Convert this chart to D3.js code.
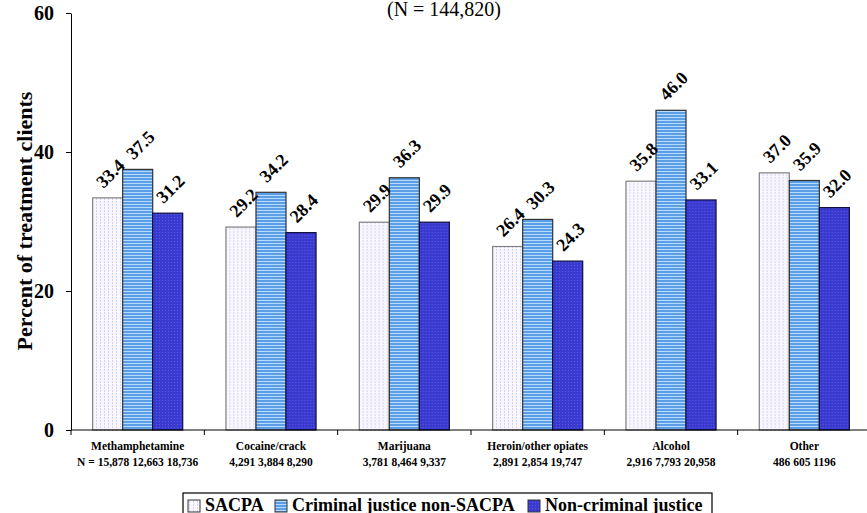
<!DOCTYPE html>
<html>
<head>
<meta charset="utf-8">
<script src="https://cdn.jsdelivr.net/npm/d3@7"></script>
<style>
  body { margin: 0; background: #fff; }
  svg text { font-family: "Liberation Serif", "Times New Roman", serif; }
</style>
</head>
<body>
<script>
// data
let categories = ["Methamphetamine", "Cocaine/crack", "Marijuana", "Heroin/other opiates", "Alcohol", "Other"];
let nLabels = ["N = 15,878 12,663 18,736", "4,291 3,884 8,290", "3,781 8,464 9,337",
  "2,891 2,854 19,747", "2,916 7,793 20,958", "486 605 1196"];
let seriesNames = ["SACPA", "Criminal justice non-SACPA", "Non-criminal justice"];
let sacpa = [33.4, 29.2, 29.9, 26.4, 35.8, 37.0];
let cjNonSacpa = [37.5, 34.2, 36.3, 30.3, 46.0, 35.9];
let nonCj = [31.2, 28.4, 29.9, 24.3, 33.1, 32.0];
let yTicks = [0, 20, 40, 60];

let seriesValues = [sacpa, cjNonSacpa, nonCj];
let fills = ["url(#patSacpa)", "url(#patCj)", "url(#patNon)"];
let strokes = ["#808080", "#333333", "#101040"];

let width = 867, height = 513;

svg = d3.select("body")
  .append("svg")
  .attr("width", width)
  .attr("height", height);

// patterns
let defs = svg.append("defs");
let p1 = defs.append("pattern").attr("id", "patSacpa")
  .attr("width", 4).attr("height", 3).attr("patternUnits", "userSpaceOnUse");
p1.append("rect").attr("width", 4).attr("height", 3).attr("fill", "#f7f7fd");
p1.append("rect").attr("x", 1).attr("y", 0).attr("width", 1).attr("height", 2).attr("fill", "#d4d4f2");

let p2 = defs.append("pattern").attr("id", "patCj")
  .attr("width", 4).attr("height", 3).attr("patternUnits", "userSpaceOnUse");
p2.append("rect").attr("width", 4).attr("height", 3).attr("fill", "#5c9ee6");
p2.append("rect").attr("y", 0).attr("width", 4).attr("height", 1).attr("fill", "#b8dcff");

let p3 = defs.append("pattern").attr("id", "patNon")
  .attr("width", 3).attr("height", 3).attr("patternUnits", "userSpaceOnUse");
p3.append("rect").attr("width", 3).attr("height", 3).attr("fill", "#3a3ad0");
p3.append("rect").attr("x", 1).attr("y", 1).attr("width", 1).attr("height", 1).attr("fill", "#5a5ae4");

// scales
let x0 = d3.scaleBand()
  .domain(categories)
  .range([71, 871])
  .padding(0);

let x1 = d3.scaleBand()
  .domain(d3.range(seriesNames.length))
  .range([0, x0.bandwidth()])
  .paddingInner(0)
  .paddingOuter(0.72);

let yScale = d3.scaleLinear()
  .domain([0, 60])
  .range([430, 13]);

// title (top is cut off in the original)
svg.append("text")
  .attr("x", 444)
  .attr("y", 16)
  .attr("text-anchor", "middle")
  .style("font-size", "20px")
  .text("(N = 144,820)");

// y axis
let yAxis = d3.axisLeft(yScale).tickValues(yTicks).tickSize(5).tickSizeOuter(0);
let yg = svg.append("g")
  .attr("transform", "translate(71,0)")
  .call(yAxis);
yg.select(".domain").attr("stroke", "#000");
yg.selectAll("text")
  .attr("x", -17)
  .attr("dy", "0.3em")
  .style("font-size", "20px")
  .style("font-weight", "bold")
  .attr("fill", "#000");

svg.append("text")
  .attr("transform", "translate(32,221) rotate(-90)")
  .attr("text-anchor", "middle")
  .style("font-size", "22px")
  .style("font-weight", "bold")
  .text("Percent of treatment clients");

// bars
let groups = svg.selectAll("g.cat")
  .data(categories)
  .enter()
  .append("g")
  .attr("class", "cat")
  .attr("transform", d => `translate(${x0(d)},0)`);

groups.selectAll("rect")
  .data((d, i) => seriesValues.map((s, j) => ({ j: j, v: s[i] })))
  .enter()
  .append("rect")
  .attr("x", d => x1(d.j))
  .attr("y", d => yScale(d.v))
  .attr("width", x1.bandwidth())
  .attr("height", d => yScale(0) - yScale(d.v))
  .attr("fill", d => fills[d.j])
  .attr("stroke", d => strokes[d.j])
  .attr("stroke-width", 1.2);

groups.selectAll("text.val")
  .data((d, i) => seriesValues.map((s, j) => ({ j: j, v: s[i] })))
  .enter()
  .append("text")
  .attr("class", "val")
  .attr("transform", d => `translate(${x1(d.j) + x1.bandwidth() / 2 + 7},${yScale(d.v) - 20}) rotate(-45)`)
  .attr("text-anchor", "middle")
  .style("font-size", "18px")
  .style("font-weight", "bold")
  .text(d => d.v.toFixed(1));

// x axis
svg.append("line")
  .attr("x1", 71).attr("x2", width)
  .attr("y1", yScale(0)).attr("y2", yScale(0))
  .attr("stroke", "#000");

svg.selectAll("line.xtick")
  .data(categories)
  .enter()
  .append("line")
  .attr("class", "xtick")
  .attr("x1", d => x0(d)).attr("x2", d => x0(d))
  .attr("y1", yScale(0)).attr("y2", yScale(0) + 5)
  .attr("stroke", "#000");

let catLabels = svg.selectAll("text.cat")
  .data(categories)
  .enter()
  .append("text")
  .attr("class", "cat")
  .attr("text-anchor", "middle")
  .style("font-size", "11.5px")
  .style("font-weight", "bold");
catLabels.append("tspan")
  .attr("x", d => x0(d) + x0.bandwidth() / 2)
  .attr("y", 450)
  .text(d => d);
catLabels.append("tspan")
  .attr("x", d => x0(d) + x0.bandwidth() / 2)
  .attr("y", 466)
  .text((d, i) => nLabels[i]);

// legend
let legend = svg.append("g");
legend.append("rect")
  .attr("x", 183).attr("y", 493)
  .attr("width", 529).attr("height", 30)
  .attr("fill", "#fff")
  .attr("stroke", "#000")
  .attr("stroke-width", 1.2);

let legendX = [188, 275, 528];
seriesNames.forEach(function(name, j) {
  legend.append("rect")
    .attr("x", legendX[j]).attr("y", 500)
    .attr("width", 12).attr("height", 12)
    .attr("fill", fills[j])
    .attr("stroke", "#333");
  legend.append("text")
    .attr("x", legendX[j] + 17)
    .attr("y", 511)
    .style("font-size", "18px")
    .style("font-weight", "bold")
    .text(name);
});
</script>
</body>
</html>
